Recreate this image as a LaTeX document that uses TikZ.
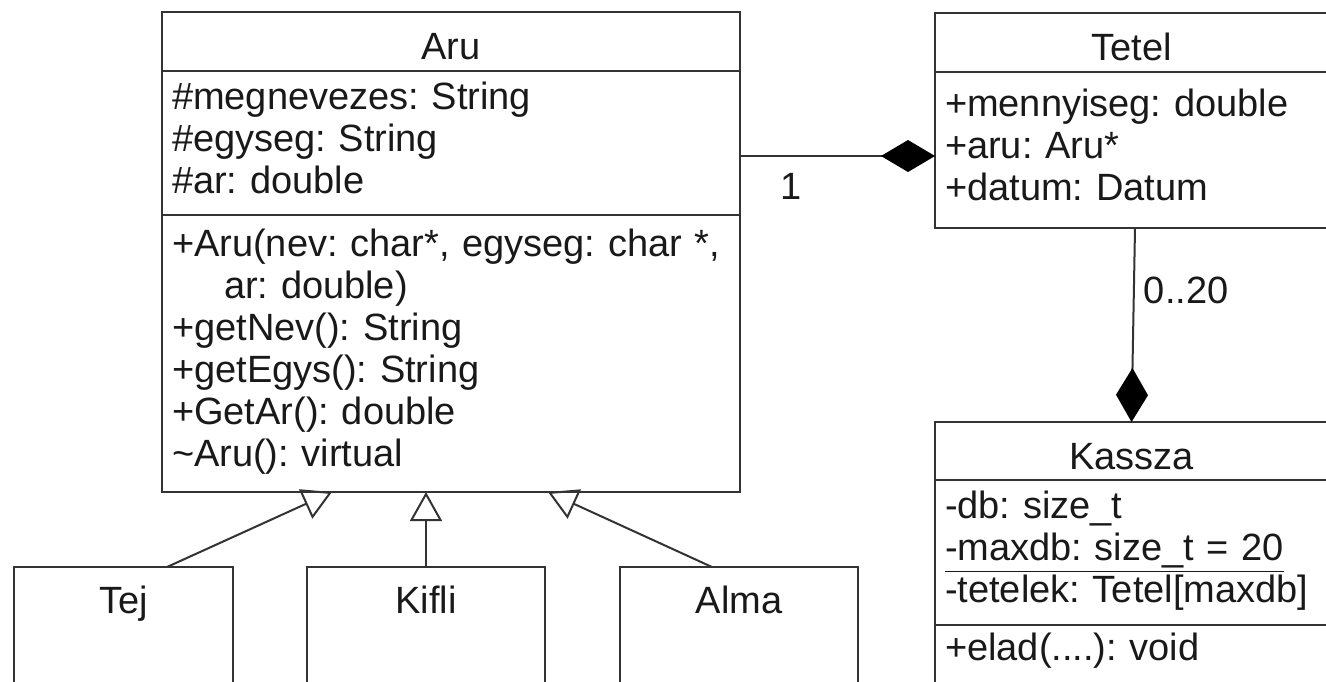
\documentclass[tikz,border=0pt]{standalone}
\usepackage{fontspec}
\setmainfont{Liberation Sans}
\usetikzlibrary{arrows.meta,positioning}
\definecolor{umlline}{gray}{0.2}
\definecolor{umltext}{gray}{0.1}

\begin{document}
\frenchspacing
\begin{tikzpicture}[x=0.5pt,y=-0.5pt,
    every node/.style={font=\fontsize{19}{21}\selectfont, text=umltext},
    box/.style={draw=umlline, line width=1.2pt, anchor=north west, outer sep=0pt, inner ysep=0pt, inner xsep=5pt},
    clsname/.style={box, text height=23.5pt, text depth=6pt},
    members/.style={box, align=left, execute at begin node=\strut, execute at end node=\strut},
    subcls/.style={box, minimum width=109.5pt, text height=23pt, text depth=65pt},
    mult/.style={inner sep=2pt},
    assoc/.style={draw=umlline, line width=1pt},
    compos/.style={assoc, -{Diamond[length=27pt,width=16pt,color=black]}},
    inherit/.style={assoc, -{Triangle[open,length=14.5pt,width=16pt]}}]
    \useasboundingbox (0,0) rectangle (1326,681);
    \clip (0,0) rectangle (1326,681);
    % Aru
    \node[clsname, minimum width=289pt] (aru-name) at (162,12) {Aru};
    \node[members, text width=279pt, minimum height=72pt] (aru-attr) at (aru-name.south west)
      {\#megnevezes: String\\ \#egyseg: String\\ \#ar: double};
    \node[members, text width=279pt, minimum height=138.5pt] (aru-ops) at (aru-attr.south west)
      {\mbox{+Aru(nev: char*, egyseg: char *,}\\ \hspace*{26pt}ar: double)\\ +getNev(): String\\
       +getEgys(): String\\ +GetAr(): double\\ \textasciitilde Aru(): virtual};
    % Tetel
    \node[clsname, minimum width=196.5pt] (tetel-name) at (935,13) {Tetel};
    \node[members, text width=190pt, minimum height=78pt] (tetel-attr) at (tetel-name.south west)
      {+mennyiseg: double\\ +aru: Aru*\\ +datum: Datum};
    % Kassza
    \node[clsname, minimum width=196.5pt, text depth=5.5pt] (kassza-name) at (935,422) {Kassza};
    \node[members, text width=190pt, minimum height=72.5pt] (kassza-attr) at (kassza-name.south west)
      {-db: size\_t\\ \underline{-maxdb: size\_t = 20}\\ -tetelek: Tetel[maxdb]};
    \node[box, text width=190pt, align=left, text height=17.5pt, text depth=45pt] (kassza-ops)
      at (kassza-attr.south west) {+elad(....): void};
    % subclasses
    \node[subcls] (tej) at (14,567) {Tej};
    \node[subcls, minimum width=119pt] (kifli) at (307,567) {Kifli};
    \node[subcls, minimum width=119pt] (alma) at (620,567) {Alma};

    \coordinate (agg1) at ([yshift=-3pt]tetel-attr.west);
    \draw[compos] (aru-attr.east |- agg1) -- node[mult, pos=0.26, below=6pt] (m-one) {1} (agg1);
    \draw[compos] (tetel-attr.south) -- node[mult, pos=0.32, right=2.5pt] (m-many) {0..20} (kassza-name.north);

    \coordinate (tej-top) at ([xshift=76.5pt]tej.north west);
    \coordinate (tej-tip) at ([xshift=85pt]aru-ops.south west);
    \coordinate (alma-top) at ([xshift=46pt]alma.north west);
    \coordinate (alma-tip) at ([xshift=193pt]aru-ops.south west);
    \draw[inherit] (tej-top) -- (tej-tip);
    \draw[inherit] (kifli.north) -- (kifli.north |- aru-ops.south);
    \draw[inherit] (alma-top) -- (alma-tip);
\end{tikzpicture}
\end{document}
